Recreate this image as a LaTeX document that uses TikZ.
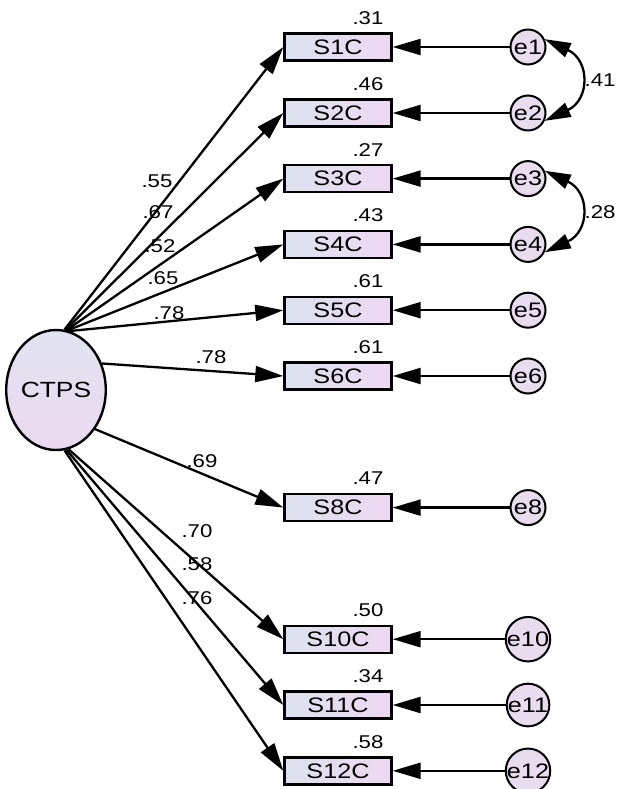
\documentclass[tikz,border=0pt]{standalone}
\usepackage{fontspec}
\setmainfont{Liberation Sans}[FakeStretch=1.2]
\usetikzlibrary{arrows.meta,shapes.geometric}

\definecolor{boxL}{HTML}{DCE2EE}
\definecolor{boxR}{HTML}{EED8F2}
\definecolor{errFill}{HTML}{E8DCEF}
\definecolor{latTop}{HTML}{E0E4F0}
\definecolor{latBot}{HTML}{ECD8F0}

\begin{document}
\begin{tikzpicture}[x=1pt,y=1pt,
  obsbox/.style={draw, line width=2.4pt, minimum width=107pt, minimum height=27pt,
    inner sep=0pt, left color=boxL, right color=boxR,
    font=\fontsize{21}{21}\selectfont},
  errnode/.style={circle, draw, line width=2pt, minimum size=35pt,
    inner sep=0pt, fill=errFill, font=\fontsize{21}{21}\selectfont},
  latnode/.style={ellipse, draw, line width=2.4pt, minimum width=92pt, minimum height=120pt,
    inner sep=0pt, top color=latTop, bottom color=latBot,
    font=\fontsize{22}{22}\selectfont},
  loadarrow/.style={line width=2.3pt, -{Triangle[length=28pt,width=16pt]}},
  covarrow/.style={line width=2.3pt, {Triangle[length=26pt,width=15pt]}-{Triangle[length=26pt,width=15pt]}},
  numlbl/.style={font=\fontsize{18.5}{18.5}\selectfont, inner sep=0pt}
]
\useasboundingbox (0,0) rectangle (620,-789);

% latent factor
\node[latnode] (ctps) at (56,-390) {CTPS};

% observed indicators, error terms and squared multiple correlations
\foreach \name/\y/\rsq in {1/47/.31, 2/113/.46, 3/178.6/.27, 4/244.4/.43, 5/310.2/.61,
                           6/376/.61, 8/507.6/.47, 10/639.2/.50, 11/705/.34, 12/770.8/.58}{
  \node[obsbox] (s\name) at (338,-\y) {S\name C};
  \node[errnode] (e\name) at (528,-\y) {e\name};
  \node[numlbl] (r\name) at (368,-\y+29) {\rsq};
  \draw[loadarrow] (e\name.west) -- (s\name.east);
}

% factor loadings
\draw[loadarrow] (ctps.82) -- (s1.west);
\draw[loadarrow] (ctps.81) -- (s2.west);
\draw[loadarrow] (ctps.80) -- (s3.west);
\draw[loadarrow] (ctps.79) -- (s4.west);
\draw[loadarrow] (ctps.77) -- (s5.west);
\draw[loadarrow] (ctps.30) -- (s6.west);
\draw[loadarrow] (ctps.-45) -- (s8.west);
\draw[loadarrow] (ctps.-78) -- (s10.west);
\draw[loadarrow] (ctps.-80) -- (s11.west);
\draw[loadarrow] (ctps.-82) -- (s12.west);

\node[numlbl] (l1) at (157,-181) {.55};
\node[numlbl] (l2) at (158,-212) {.67};
\node[numlbl] (l3) at (160,-246) {.52};
\node[numlbl] (l4) at (163,-278) {.65};
\node[numlbl] (l5) at (169,-313) {.78};
\node[numlbl] (l6) at (211,-357) {.78};
\node[numlbl] (l8) at (202,-461) {.69};
\node[numlbl] (l10) at (197,-531) {.70};
\node[numlbl] (l11) at (197,-564) {.58};
\node[numlbl] (l12) at (197,-598) {.76};

% error covariances
\draw[covarrow] (e1.25) .. controls +(-25:50) and +(25:50) .. (e2.-25);
\draw[covarrow] (e3.25) .. controls +(-25:50) and +(25:50) .. (e4.-25);
\node[numlbl] (c12) at (600,-80) {.41};
\node[numlbl] (c34) at (600,-212) {.28};
\end{tikzpicture}
\end{document}
